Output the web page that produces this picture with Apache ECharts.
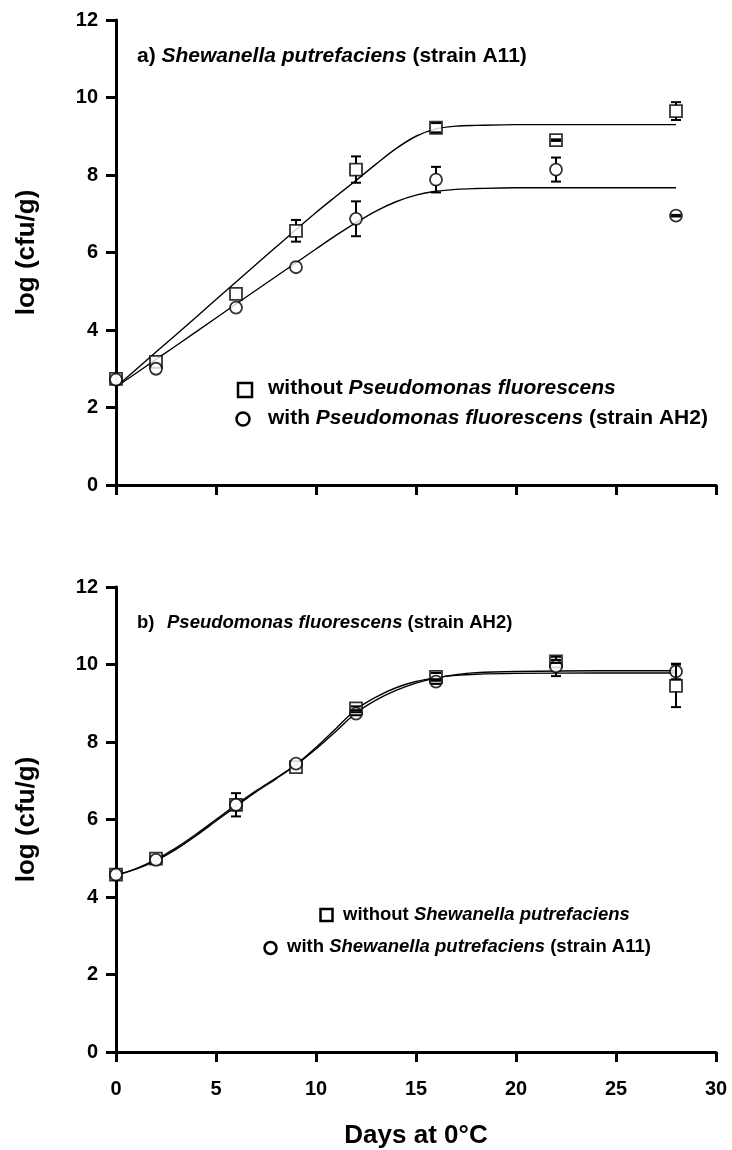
<!DOCTYPE html>
<html>
<head>
<meta charset="utf-8">
<script src="https://cdn.jsdelivr.net/npm/echarts@6/dist/echarts.min.js"></script>
<style>
  html, body { margin: 0; padding: 0; background: #fff; }
  #chart { width: 732px; height: 1150px; }
</style>
</head>
<body>
<div id="chart"></div>
<script>
// sampling days (both panels)
const days = [0, 2, 6, 9, 12, 16, 22, 28]

// a) Shewanella putrefaciens (strain A11)
const aWithout = [2.74, 3.18, 4.93, 6.56, 8.14, 9.22, 8.9, 9.65]
const aWithoutErr = [0, 0, 0, 0.28, 0.34, 0.12, 0.02, 0.23]
const aWith = [2.72, 3.0, 4.58, 5.62, 6.87, 7.88, 8.14, 6.95]
const aWithErr = [0, 0, 0, 0, 0.45, 0.33, 0.31, 0.02]

const fitDaysA = [0, 2, 4, 6, 8, 10, 11, 12, 13, 14, 15, 16, 17, 18, 20, 24, 28]
const fitAWithout = [2.53, 3.43, 4.33, 5.24, 6.14, 7.03, 7.45, 7.86, 8.28, 8.68, 9.0, 9.19, 9.26, 9.28, 9.3, 9.3, 9.3]
const fitAWith = [2.53, 3.24, 3.95, 4.67, 5.38, 6.09, 6.44, 6.77, 7.07, 7.31, 7.48, 7.58, 7.63, 7.65, 7.67, 7.67, 7.67]

// b) Pseudomonas fluorescens (strain AH2)
const bWithout = [4.58, 4.99, 6.38, 7.35, 8.87, 9.68, 10.08, 9.45]
const bWithoutErr = [0, 0, 0.3, 0, 0.05, 0.1, 0.04, 0.55]
const bWith = [4.58, 4.96, 6.38, 7.44, 8.73, 9.56, 9.95, 9.82]
const bWithErr = [0, 0, 0, 0, 0.04, 0.06, 0.25, 0.2]

const fitDaysB = [0, 1, 2, 3, 4, 5, 6, 7, 8, 9, 10, 11, 12, 13, 14, 15, 16, 17, 18, 20, 24, 28]
const fitBWithout = [4.56, 4.73, 4.97, 5.27, 5.62, 6.0, 6.38, 6.74, 7.07, 7.42, 7.86, 8.35, 8.84, 9.16, 9.4, 9.56, 9.66, 9.72, 9.75, 9.77, 9.78, 9.78]
const fitBWith = [4.56, 4.72, 4.94, 5.23, 5.58, 5.96, 6.34, 6.71, 7.05, 7.41, 7.82, 8.28, 8.75, 9.08, 9.33, 9.52, 9.65, 9.74, 9.79, 9.82, 9.84, 9.84]

const xTicks = [0, 5, 10, 15, 20, 25, 30]
const yTicks = [0, 2, 4, 6, 8, 10, 12]

const FONT = '"Liberation Sans", Arial, sans-serif'
const MARK = 12

const pairs = (xs, ys) => xs.map((x, i) => [x, ys[i]])
const errData = (vals, errs) => days.map((d, i) => [d, vals[i], errs[i]])

// error bars, drawn round the marker so the open symbol stays clean
function renderErr(params, api) {
  const x = api.value(0), v = api.value(1), e = api.value(2)
  if (!e) return null
  const c = api.coord([x, v])
  const t = api.coord([x, v + e])
  const b = api.coord([x, v - e])
  const half = 5, r = MARK / 2
  const style = { stroke: '#000', lineWidth: 2 }
  const kids = [
    { type: 'line', shape: { x1: t[0] - half, y1: t[1], x2: t[0] + half, y2: t[1] }, style },
    { type: 'line', shape: { x1: b[0] - half, y1: b[1], x2: b[0] + half, y2: b[1] }, style }
  ]
  if (c[1] - t[1] > r) kids.push({ type: 'line', shape: { x1: c[0], y1: t[1], x2: c[0], y2: c[1] - r }, style })
  if (b[1] - c[1] > r) kids.push({ type: 'line', shape: { x1: c[0], y1: c[1] + r, x2: c[0], y2: b[1] }, style })
  return { type: 'group', children: kids }
}

function panelSeries(idx, fitDays, fitW, fitC, valW, errW, valC, errC) {
  const ax = { xAxisIndex: idx, yAxisIndex: idx }
  const line = (data) => ({
    ...ax, type: 'line', data: pairs(fitDays, data), smooth: 0.35, symbol: 'none',
    lineStyle: { color: '#000', width: 1.4 }, z: 2, silent: true
  })
  const pts = (data, symbol) => ({
    ...ax, type: 'scatter', data: pairs(days, data), symbol, symbolSize: MARK,
    itemStyle: { color: '#fff', borderColor: '#000', borderWidth: 1.8 }, z: 3
  })
  const err = (vals, errs) => ({
    ...ax, type: 'custom', data: errData(vals, errs), renderItem: renderErr, z: 4, silent: true
  })
  return [line(fitW), line(fitC), pts(valW, 'rect'), pts(valC, 'circle'), err(valW, errW), err(valC, errC)]
}

const axisStyle = {
  axisLine: { lineStyle: { color: '#000', width: 3 } },
  axisTick: { length: 10, lineStyle: { color: '#000', width: 3 } },
  splitLine: { show: false }
}

const xAxis = (idx, labels) => ({
  ...axisStyle, type: 'value', gridIndex: idx,
  min: xTicks[0], max: xTicks[xTicks.length - 1], interval: xTicks[1] - xTicks[0],
  axisLabel: { show: labels, color: '#000', fontFamily: FONT, fontWeight: 'bold', fontSize: 20, margin: 27 },
  name: labels ? 'Days at 0°C' : '', nameLocation: 'middle', nameGap: 71,
  nameTextStyle: { color: '#000', fontFamily: FONT, fontWeight: 'bold', fontSize: 26 }
})
const yAxis = (idx) => ({
  ...axisStyle, type: 'value', gridIndex: idx,
  min: yTicks[0], max: yTicks[yTicks.length - 1], interval: yTicks[1] - yTicks[0],
  axisLabel: { color: '#000', fontFamily: FONT, fontWeight: 'bold', fontSize: 20, margin: 18 },
  name: 'log (cfu/g)', nameLocation: 'middle', nameGap: 76,
  nameTextStyle: { color: '#000', fontFamily: FONT, fontWeight: 'bold', fontSize: 26 }
})

const label = (x, y, text, size) => ({
  type: 'text', x, y, silent: true,
  style: {
    text, fill: '#000', font: `bold ${size}px ${FONT}`, verticalAlign: 'middle',
    rich: {
      n: { fontFamily: FONT, fontWeight: 'bold', fontSize: size, fill: '#000' },
      i: { fontFamily: FONT, fontWeight: 'bold', fontStyle: 'italic', fontSize: size, fill: '#000' }
    }
  }
})
const keyRect = (cx, cy, s) => ({
  type: 'rect', silent: true, shape: { x: cx - s / 2, y: cy - s / 2, width: s, height: s },
  style: { fill: '#fff', stroke: '#000', lineWidth: 2.5 }
})
const keyCircle = (cx, cy, r) => ({
  type: 'circle', silent: true, shape: { cx, cy, r },
  style: { fill: '#fff', stroke: '#000', lineWidth: 2.5 }
})

const chart = echarts.init(document.getElementById('chart'), null, { renderer: 'canvas' })
chart.setOption({
  backgroundColor: '#fff',
  animation: false,
  grid: [
    { left: 116, right: 16, top: 20, height: 465 },
    { left: 116, right: 16, top: 587, height: 466 }
  ],
  xAxis: [xAxis(0, false), xAxis(1, true)],
  yAxis: [yAxis(0), yAxis(1)],
  series: [
    ...panelSeries(0, fitDaysA, fitAWithout, fitAWith, aWithout, aWithoutErr, aWith, aWithErr),
    ...panelSeries(1, fitDaysB, fitBWithout, fitBWith, bWithout, bWithoutErr, bWith, bWithErr)
  ],
  graphic: [
    label(137, 56, '{n|a) }{i|Shewanella putrefaciens}{n| (strain A11)}', 21),
    keyRect(245, 390, 14),
    label(268, 388, '{n|without }{i|Pseudomonas fluorescens}', 21),
    keyCircle(243, 419, 6.5),
    label(268, 418, '{n|with }{i|Pseudomonas fluorescens}{n| (strain AH2)}', 21),

    label(137, 623, '{n|b)}', 18.5),
    label(167, 623, '{i|Pseudomonas fluorescens}{n| (strain AH2)}', 18.5),
    keyRect(326.5, 915, 12),
    label(343, 915, '{n|without }{i|Shewanella putrefaciens}', 18.5),
    keyCircle(270.5, 948, 6),
    label(287, 947, '{n|with }{i|Shewanella putrefaciens}{n| (strain A11)}', 18.5)
  ]
})
</script>
</body>
</html>
